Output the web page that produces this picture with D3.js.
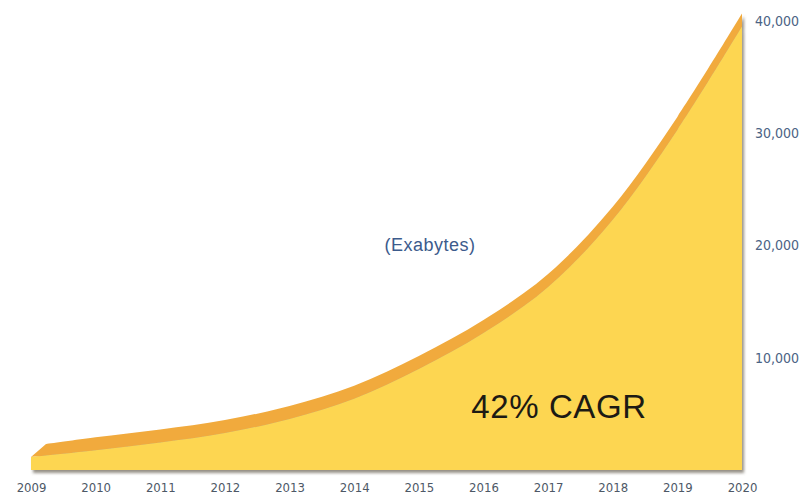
<!DOCTYPE html>
<meta charset="utf-8">
<style>
body { margin: 0; background: #fff; }
text { font-family: "Liberation Sans", Arial, sans-serif; }
.xaxis text { font-family: "DejaVu Sans Condensed", "Liberation Sans", sans-serif; font-size: 13px; fill: #4d5866; }
.yaxis text { font-family: "DejaVu Sans Condensed", "Liberation Sans", sans-serif; font-size: 14px; fill: #4b6384; }
</style>
<svg width="809" height="500"></svg>
<script src="https://cdn.jsdelivr.net/npm/d3@7"></script>
<script>

var years = [2009, 2010, 2011, 2012, 2013, 2014, 2015, 2016, 2017, 2018, 2019, 2020];
var exabytes = [1150, 1750, 2450, 3300, 4550, 6350, 9000, 12200, 16300, 22300, 30300, 39500];
var yTicks = [10000, 20000, 30000, 40000];
var unitLabel = "(Exabytes)";
var cagrLabel = "42% CAGR";

var data = years.map(function(yr, i) { return { year: yr, value: exabytes[i] }; });

var svg = d3.select("svg");

var x = d3.scaleLinear().domain([2009, 2020]).range([31, 742]);
var y = d3.scaleLinear().domain([0, 40000]).range([470, 21]);

// back edge of the ribbon (fake 3d)
var bandDx = 0, bandDy = -13, capDx = 15;

var defs = svg.append("defs");
var shadow = defs.append("filter").attr("id", "shadow")
    .attr("x", "-5%").attr("y", "-5%").attr("width", "110%").attr("height", "115%");
shadow.append("feDropShadow")
    .attr("dx", 2).attr("dy", 3).attr("stdDeviation", 1.8)
    .attr("flood-color", "#6b6355").attr("flood-opacity", 0.7);

defs.append("clipPath").attr("id", "clip")
  .append("rect").attr("x", 0).attr("y", 0).attr("width", x(2020)).attr("height", 500);

var g = svg.append("g");

var curve = d3.curveCatmullRom.alpha(0.5);

var band = d3.area()
    .curve(curve)
    .x0(function(d) { return x(d.year); })
    .y0(function(d) { return y(d.value); })
    .x1(function(d, i) { return x(d.year) + (i == 0 ? capDx : bandDx); })
    .y1(function(d) { return y(d.value) + bandDy; });

var front = d3.area()
    .curve(curve)
    .x(function(d) { return x(d.year); })
    .y0(y(0))
    .y1(function(d) { return y(d.value); });

var shape = g.append("g").attr("filter", "url(#shadow)");

shape.append("g").attr("clip-path", "url(#clip)")
  .append("path")
    .datum(data)
    .attr("d", band)
    .attr("fill", "#f1aa3d");

shape.append("path")
    .datum(data)
    .attr("d", front)
    .attr("fill", "#fdd651");

// axes
var xAxis = d3.axisBottom(x).tickValues(years).tickFormat(d3.format("d"))
    .tickSize(0).tickPadding(7);
svg.append("g").attr("class", "xaxis")
    .attr("transform", "translate(0,476)")
    .call(xAxis)
    .call(function(s) { s.select(".domain").remove(); });

var yAxis = d3.axisRight(y).tickValues(yTicks).tickFormat(d3.format(","))
    .tickSize(0).tickPadding(6);
svg.append("g").attr("class", "yaxis")
    .attr("transform", "translate(749,0)")
    .call(yAxis)
    .call(function(s) { s.select(".domain").remove(); });

svg.append("text")
    .attr("x", 430).attr("y", 251)
    .attr("text-anchor", "middle")
    .style("font-size", "18px")
    .style("letter-spacing", "0.5px")
    .style("fill", "#3c5b8c")
    .text(unitLabel);

svg.append("text")
    .attr("x", 559).attr("y", 418)
    .attr("text-anchor", "middle")
    .style("font-size", "33px")
    .style("letter-spacing", "0.6px")
    .style("fill", "#1c1a14")
    .text(cagrLabel);

</script>
